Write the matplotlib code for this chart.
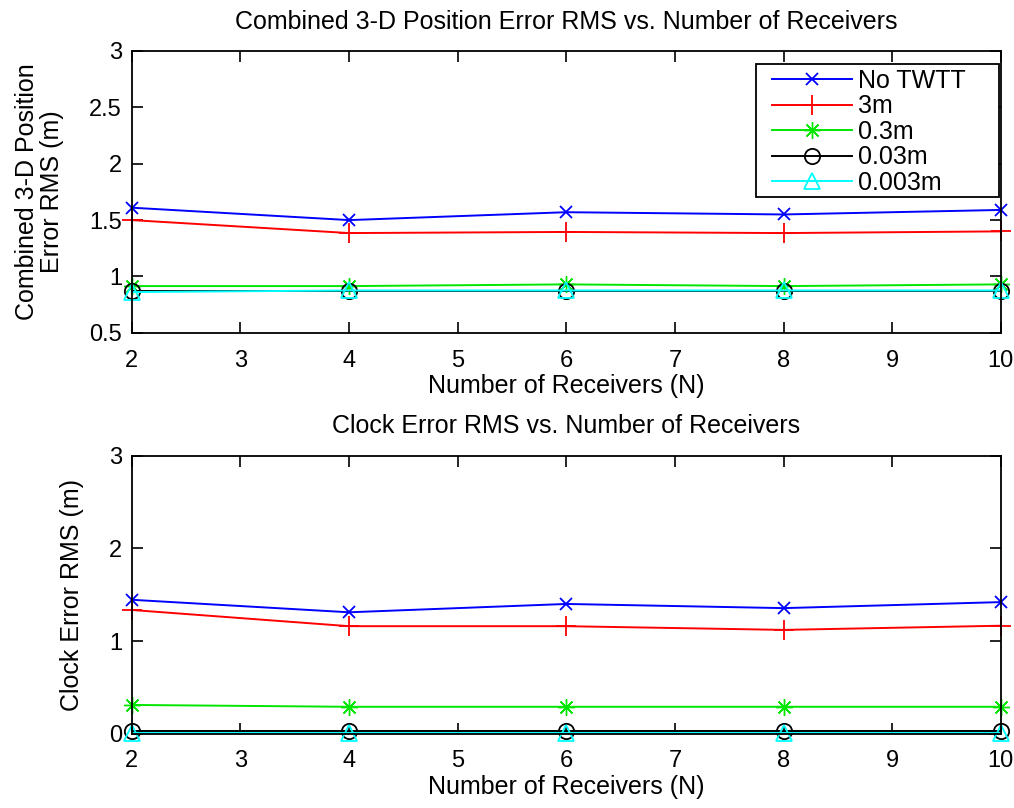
import matplotlib
matplotlib.use("Agg")
import matplotlib.pyplot as plt
from matplotlib.patches import Rectangle

plt.rcParams['font.family'] = ['Liberation Sans', 'DejaVu Sans']

receivers = [2, 4, 6, 8, 10]
series_labels = ['No TWTT', '3m', '0.3m', '0.03m', '0.003m']

# Combined 3-D position error RMS (m)
pos_no_twtt = [1.61, 1.50, 1.57, 1.55, 1.59]
pos_3m = [1.50, 1.385, 1.395, 1.385, 1.40]
pos_03m = [0.915, 0.915, 0.93, 0.915, 0.93]
pos_003m = [0.875, 0.875, 0.875, 0.875, 0.875]
pos_0003m = [0.862, 0.876, 0.876, 0.876, 0.876]

# Clock error RMS (m)
clk_no_twtt = [1.445, 1.31, 1.40, 1.355, 1.42]
clk_3m = [1.335, 1.16, 1.16, 1.12, 1.165]
clk_03m = [0.31, 0.29, 0.29, 0.29, 0.29]
clk_003m = [0.03, 0.03, 0.03, 0.03, 0.03]
clk_0003m = [0.012, 0.012, 0.012, 0.012, 0.012]

x_ticks = [2, 3, 4, 5, 6, 7, 8, 9, 10]
pos_yticks = [0.5, 1, 1.5, 2, 2.5, 3]
pos_yticklabels = ['0.5', '1', '1.5', '2', '2.5', '3']
clk_yticks = [0, 1, 2, 3]

styles = [
    dict(color=(0, 0, 1), marker='x', markersize=8, mew=1.3),
    dict(color=(1, 0, 0), marker='+', markersize=14, mew=1.3),
    dict(color=(0, 0.9, 0), marker=(8, 2, 0), markersize=12, mew=1.0),
    dict(color=(0, 0, 0), marker='o', markersize=11, mew=1.3, mfc='none'),
    dict(color=(0, 1, 1), marker='^', markersize=12, mew=1.3, mfc='none'),
]

FS = 18
TFS = 17

fig = plt.figure(figsize=(10.14, 8.08), dpi=100)
ax1 = fig.add_axes([0.130, 0.588, 0.857, 0.349])
ax2 = fig.add_axes([0.130, 0.092, 0.857, 0.344])


def style_axes(ax):
    ax.set_xlim(2, 10)
    ax.set_xticks(x_ticks)
    ax.tick_params(direction='in', length=8, width=1.2, top=True, right=True,
                   labelsize=TFS)
    ax.tick_params(axis='x', pad=12)
    ax.tick_params(axis='y', pad=7)
    for s in ax.spines.values():
        s.set_linewidth(1.3)
    ax.set_xlabel('Number of Receivers (N)', fontsize=FS, labelpad=2)


pos_series = [pos_no_twtt, pos_3m, pos_03m, pos_003m, pos_0003m]
for vals, lab, st in zip(pos_series, series_labels, styles):
    ax1.plot(receivers, vals, lw=1.4, label=lab, clip_on=False, **st)
style_axes(ax1)
ax1.set_ylim(0.5, 3)
ax1.set_yticks(pos_yticks)
ax1.set_yticklabels(pos_yticklabels)
ax1.set_ylabel('Combined 3-D Position\nError RMS (m)', fontsize=FS, labelpad=18,
               linespacing=1.05)
ax1.set_title('Combined 3-D Position Error RMS vs. Number of Receivers',
              fontsize=FS, pad=16)

# Legend box with MATLAB-style wide padding
ax1.add_patch(Rectangle((0.718, 0.482), 0.280, 0.471, transform=ax1.transAxes,
                        facecolor='white', edgecolor='black', linewidth=1.3,
                        zorder=4, clip_on=False))
leg = ax1.legend(loc='upper left', bbox_to_anchor=(0.7365, 0.936), fontsize=FS,
                 frameon=False, borderaxespad=0, borderpad=0,
                 handlelength=3.2, handletextpad=0.25, labelspacing=0.06)
leg.set_zorder(5)

clk_series = [clk_no_twtt, clk_3m, clk_03m, clk_003m, clk_0003m]
for vals, lab, st in zip(clk_series, series_labels, styles):
    ax2.plot(receivers, vals, lw=1.4, label=lab, clip_on=False, **st)
style_axes(ax2)
ax2.set_ylim(0, 3)
ax2.set_yticks(clk_yticks)
ax2.set_ylabel('Clock Error RMS (m)', fontsize=FS, labelpad=18)
ax2.set_title('Clock Error RMS vs. Number of Receivers', fontsize=FS, pad=16)

fig.savefig('out.png', dpi=100)
